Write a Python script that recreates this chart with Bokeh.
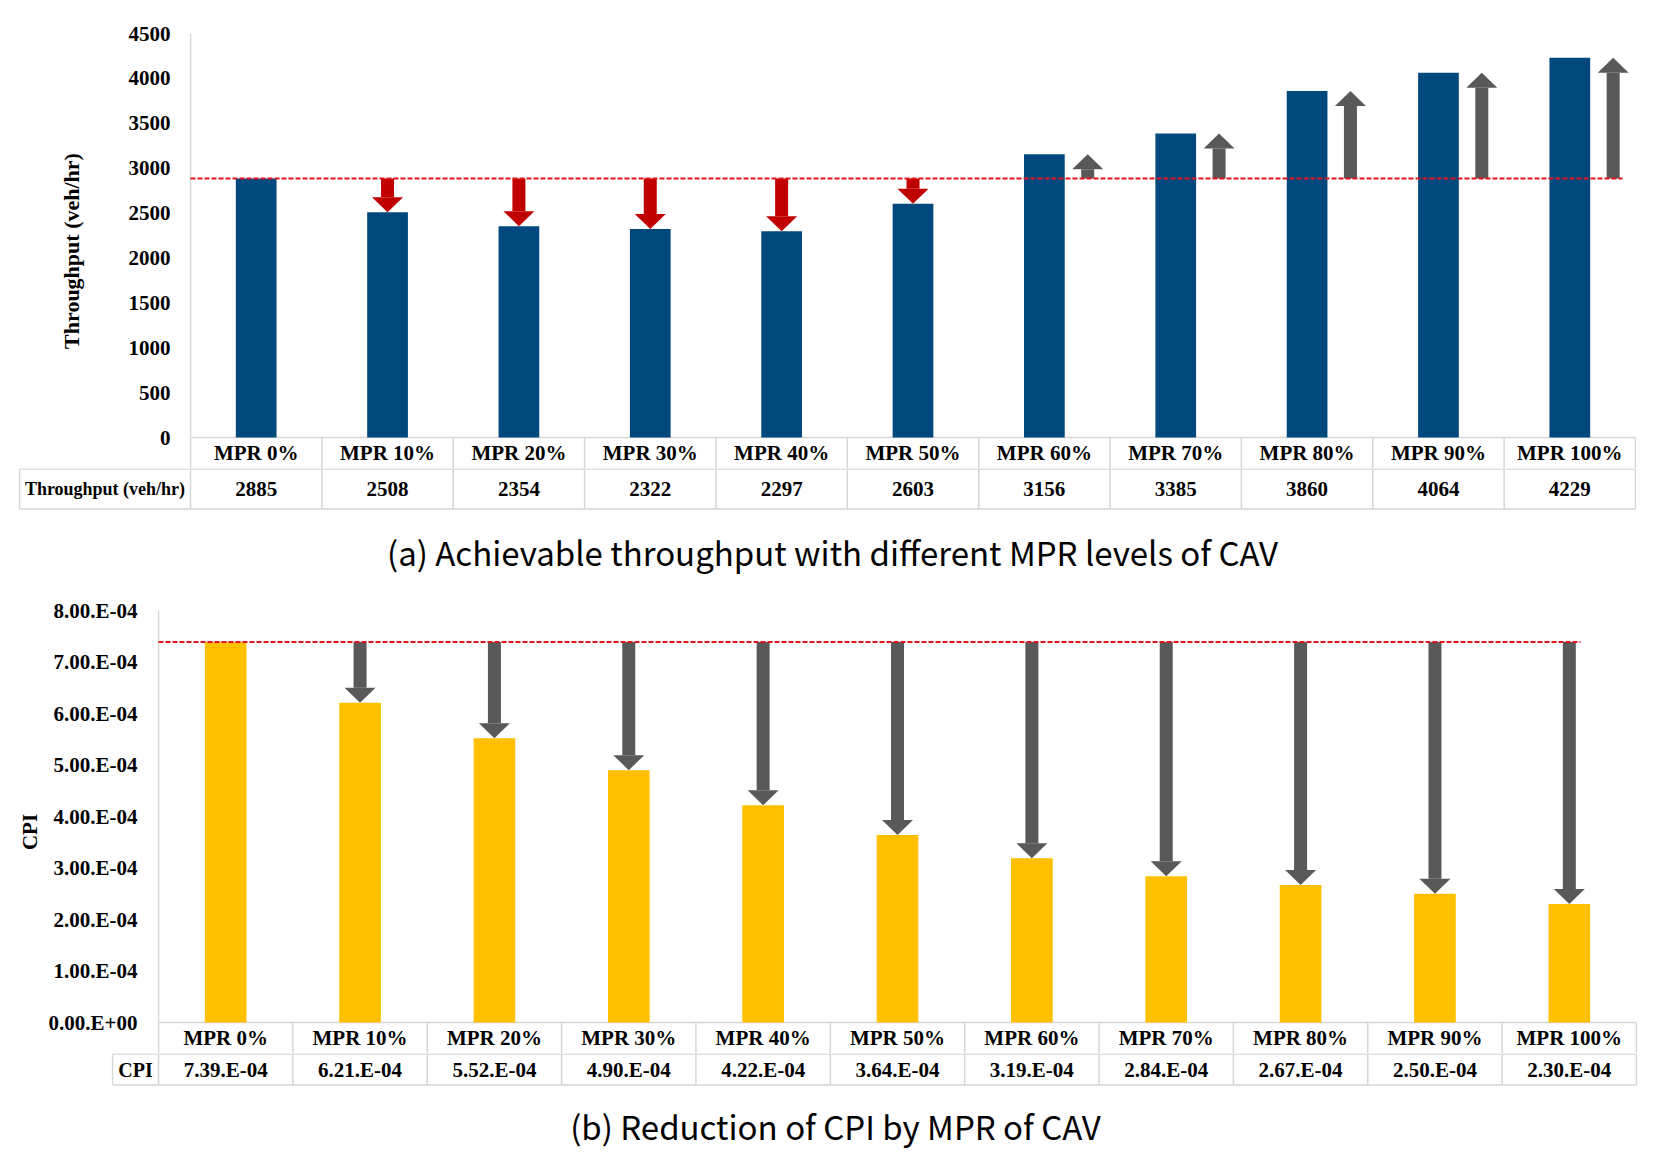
from bokeh.plotting import figure
from bokeh.models import Range1d, FixedTicker
from bokeh.core.properties import value
from bokeh.embed import file_html
from bokeh.resources import INLINE

# ---------------- data ----------------
categories = ["MPR 0%", "MPR 10%", "MPR 20%", "MPR 30%", "MPR 40%", "MPR 50%",
              "MPR 60%", "MPR 70%", "MPR 80%", "MPR 90%", "MPR 100%"]
throughput = [2885, 2508, 2354, 2322, 2297, 2603, 3156, 3385, 3860, 4064, 4229]
throughput_ticks = [0, 500, 1000, 1500, 2000, 2500, 3000, 3500, 4000, 4500]
cpi = [7.39e-4, 6.21e-4, 5.52e-4, 4.90e-4, 4.22e-4, 3.64e-4,
       3.19e-4, 2.84e-4, 2.67e-4, 2.50e-4, 2.30e-4]
cpi_ticks = [0.0, 0.0001, 0.0002, 0.0003, 0.0004, 0.0005, 0.0006, 0.0007, 0.0008]
cpi_tick_labels = ["0.00.E+00", "1.00.E-04", "2.00.E-04", "3.00.E-04", "4.00.E-04",
                   "5.00.E-04", "6.00.E-04", "7.00.E-04", "8.00.E-04"]
caption_a = "(a) Achievable throughput with different MPR levels of CAV"
caption_b = "(b) Reduction of CPI by MPR of CAV"

# ---------------- style ----------------
SERIF = value("Liberation Serif")
SANS = value("Noto Sans CJK KR")
BLUE = "#01497C"
YELLOW = "#FFC000"
GRAY = "#595959"
DARKRED = "#C00000"
DASH_RED = "#E0141E"
BORDER = "#D6D6D6"
W = 1648
N = len(categories)
xs = [i + 0.5 for i in range(N)]


def plot_fig(height, b_left, b_top, colw, y_end, plot_px, row_px, ticks, tick_std,
             label, label_std, label_size):
    pad = 1 / colw
    frame_w = int(round(N * colw)) + 2
    b_right = W - b_left - frame_w
    y_start = -row_px * y_end / plot_px
    p = figure(width=W, height=height, x_range=Range1d(-pad, N + pad),
               y_range=Range1d(y_start, y_end),
               output_backend="svg", toolbar_location=None, x_axis_location=None,
               min_border_left=b_left, min_border_right=b_right,
               min_border_top=b_top, min_border_bottom=0)
    p.grid.visible = False
    p.outline_line_color = None
    p.background_fill_color = "white"
    p.border_fill_color = "white"
    ax = p.yaxis[0]
    ax.ticker = FixedTicker(ticks=ticks)
    ax.axis_line_color = None
    ax.major_tick_line_color = None
    ax.minor_tick_line_color = None
    ax.major_tick_out = 0
    ax.minor_tick_out = 0
    ax.major_label_standoff = tick_std
    ax.major_label_text_font = "Liberation Serif"
    ax.major_label_text_font_style = "bold"
    ax.major_label_text_font_size = "21px"
    ax.major_label_text_color = "black"
    ax.axis_label = label
    ax.axis_label_standoff = label_std
    ax.axis_label_text_font = "Liberation Serif"
    ax.axis_label_text_font_style = "bold"
    ax.axis_label_text_font_size = label_size
    ax.axis_label_text_color = "black"
    # value axis line
    p.segment(x0=[0], x1=[0], y0=[0], y1=[y_end], line_color=BORDER, line_width=1.5)
    # category row of the data table (directly under the bars)
    p.segment(x0=[0], x1=[N], y0=[0], y1=[0], line_color=BORDER, line_width=1.5)
    p.segment(x0=list(range(N + 1)), x1=list(range(N + 1)),
              y0=[0] * (N + 1), y1=[y_start] * (N + 1), line_color=BORDER, line_width=1.5)
    p.text(x=xs, y=[y_start / 2] * N, text=categories, text_font=SERIF,
           text_font_style="bold", text_font_size="21px", text_align="center",
           text_baseline="middle", text_color="black")
    return p


def draw_arrows(p, ax_x, y0, y1s, head_len, head_w, shaft_w, color):
    lefts, rights, bottoms, tops, hx, hy = [], [], [], [], [], []
    for x, y1 in zip(ax_x, y1s):
        d = 1 if y1 > y0 else -1
        s_end = y1 - d * head_len
        lefts.append(x - shaft_w / 2)
        rights.append(x + shaft_w / 2)
        bottoms.append(min(y0, s_end))
        tops.append(max(y0, s_end))
        hx.append([x - head_w / 2, x + head_w / 2, x])
        hy.append([s_end, s_end, y1])
    p.quad(left=lefts, right=rights, bottom=bottoms, top=tops,
           fill_color=color, line_color=None)
    p.patches(xs=hx, ys=hy, fill_color=color, line_color=None)


def table_fig(height, b_left, colw, label_w, r2, header, header_size, vals,
              caption, cap_x, cap_y):
    L = label_w / colw
    pad = 1 / colw
    frame_w = int(round(N * colw + label_w)) + 2
    b_right = W - b_left - frame_w
    p = figure(width=W, height=height, x_range=Range1d(-L - pad, N + pad),
               y_range=Range1d(-(height - 0.5), 0.5),
               output_backend="svg", toolbar_location=None,
               x_axis_location=None, y_axis_location=None,
               min_border_left=b_left, min_border_right=b_right,
               min_border_top=0, min_border_bottom=0)
    p.grid.visible = False
    p.outline_line_color = None
    p.background_fill_color = "white"
    p.border_fill_color = "white"
    p.segment(x0=[-L, -L], x1=[N, N], y0=[0, -r2], y1=[0, -r2],
              line_color=BORDER, line_width=1.5)
    p.segment(x0=[-L] + list(range(N + 1)), x1=[-L] + list(range(N + 1)),
              y0=[0] * (N + 2), y1=[-r2] * (N + 2),
              line_color=BORDER, line_width=1.5)
    p.text(x=xs, y=[-r2 / 2] * N, text=vals, text_font=SERIF,
           text_font_style="bold", text_font_size="21px", text_align="center",
           text_baseline="middle", text_color="black")
    p.text(x=[-L / 2], y=[-r2 / 2], text=[header], text_font=SERIF,
           text_font_style="bold", text_font_size=header_size, text_align="center",
           text_baseline="middle", text_color="black")
    p.text(x=[cap_x], y=[-cap_y], text=[caption], text_font=SANS,
           text_font_size="33px", text_align="center", text_baseline="middle",
           text_color="black")
    return p


# ---------------- panel (a) ----------------
colw_a = 1445 / N
pa = plot_fig(468, 189, 33, colw_a, 4500, 404, 31, throughput_ticks, 19,
              "Throughput (veh/hr)", 42, "22px")
pa.vbar(x=xs, top=throughput, width=0.31, fill_color=BLUE, line_color=None)
base_a = throughput[0]
down_idx = [i for i in range(1, N) if throughput[i] < base_a]
up_idx = [i for i in range(1, N) if throughput[i] > base_a]
hl_a = 15 / 404 * 4500
draw_arrows(pa, [xs[i] for i in down_idx], base_a, [throughput[i] for i in down_idx],
            hl_a, 31 / colw_a, 13 / colw_a, DARKRED)
draw_arrows(pa, [xs[i] + 0.33 for i in up_idx], base_a, [throughput[i] for i in up_idx],
            hl_a, 31 / colw_a, 13 / colw_a, GRAY)
pa.line(x=[0, (1622 - 190) / colw_a], y=[base_a, base_a], line_color=DASH_RED,
        line_width=2, line_dash="5 2")

ta = table_fig(127, 18, colw_a, 171, 40, "Throughput (veh/hr)", "18px",
               [str(v) for v in throughput], caption_a, (832 - 190) / colw_a, 83)

# ---------------- panel (b) ----------------
colw_b = 1478 / N
pb = plot_fig(458, 157, 15, colw_b, 0.0008, 412, 31, cpi_ticks, 20, "CPI", 4, "21px")
pb.yaxis[0].major_label_overrides = dict(zip(cpi_ticks, cpi_tick_labels))
pb.vbar(x=xs, top=cpi, width=0.31, fill_color=YELLOW, line_color=None)
base_b = cpi[0]
hl_b = 15 / 412 * 0.0008
draw_arrows(pb, xs[1:], base_b, cpi[1:], hl_b, 31 / colw_b, 13 / colw_b, GRAY)
pb.line(x=[0, (1580 - 158) / colw_b], y=[base_b, base_b], line_color=DASH_RED,
        line_width=2, line_dash="5 2")

cpi_text = [("%.2E" % v).replace("E", ".E") for v in cpi]
tb = table_fig(107, 111, colw_b, 46, 31, "CPI", "20px", cpi_text,
               caption_b, (835 - 158) / colw_b, 72)

open("out.html", "w").write(file_html([pa, ta, pb, tb], INLINE))
